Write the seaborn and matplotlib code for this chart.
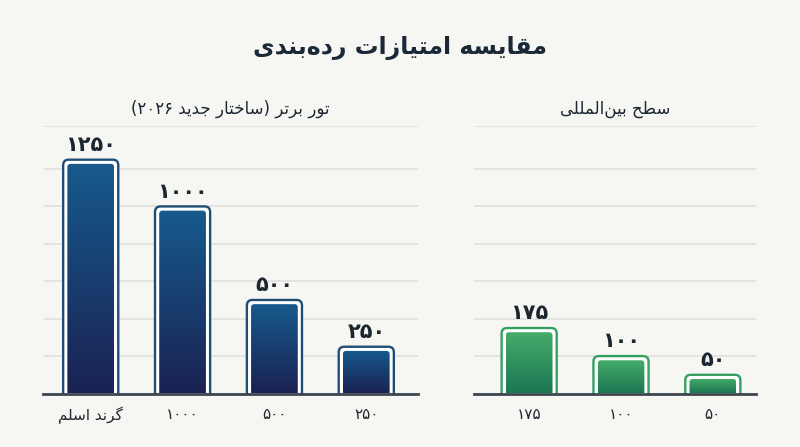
import re
import numpy as np
import pandas as pd
import matplotlib
matplotlib.use("Agg")
import matplotlib.pyplot as plt
import seaborn as sns
from matplotlib.patches import FancyBboxPatch
from matplotlib.colors import LinearSegmentedColormap

# ---------------- data ----------------
TITLE = "مقایسه امتیازات رده‌بندی"
LEFT_TITLE = "تور برتر (ساختار جدید ۲۰۲۶)"
RIGHT_TITLE = "سطح بین‌المللی"
left_categories = ["گرند اسلم", "۱۰۰۰", "۵۰۰", "۲۵۰"]
left_points = [1250, 1000, 500, 250]
right_categories = ["۱۷۵", "۱۰۰", "۵۰"]
right_points = [175, 100, 50]
left_grid = [0, 200, 400, 600, 800, 1000, 1200]
right_grid = [0, 100, 200, 300, 400, 500, 600]

# ---------------- minimal Persian shaping + bidi ----------------
FOUR = {'ب': 0xFE8F, 'ت': 0xFE95, 'ث': 0xFE99, 'ج': 0xFE9D, 'ح': 0xFEA1, 'خ': 0xFEA5,
        'س': 0xFEB1, 'ش': 0xFEB5, 'ص': 0xFEB9, 'ض': 0xFEBD, 'ط': 0xFEC1, 'ظ': 0xFEC5,
        'ع': 0xFEC9, 'غ': 0xFECD, 'ف': 0xFED1, 'ق': 0xFED5, 'ل': 0xFEDD, 'م': 0xFEE1,
        'ن': 0xFEE5, 'ه': 0xFEE9, 'پ': 0xFB56, 'چ': 0xFB7A, 'ک': 0xFB8E, 'گ': 0xFB92,
        'ی': 0xFBFC}
TWO = {'ا': 0xFE8D, 'آ': 0xFE81, 'د': 0xFEA9, 'ذ': 0xFEAB, 'ر': 0xFEAD, 'ز': 0xFEAF,
       'ژ': 0xFB8A, 'و': 0xFEED}


def _is_letter(c):
    return c in FOUR or c in TWO


def shape(text):
    # lam-alef ligature
    text = text.replace('لا', '\uFEFB')
    out = []
    n = len(text)
    for i, c in enumerate(text):
        if c == '\u200c':
            continue
        if c == '\uFEFB':
            prev = text[i - 1] if i > 0 else ''
            out.append('\uFEFC' if prev in FOUR else '\uFEFB')
            continue
        if not _is_letter(c):
            out.append(c)
            continue
        prev = text[i - 1] if i > 0 else ''
        nxt = text[i + 1] if i + 1 < n else ''
        jp = prev in FOUR
        jn = c in FOUR and (_is_letter(nxt) or nxt == '\uFEFB')
        if c in FOUR:
            base = FOUR[c]
            if jp and jn:
                cp = base + 3
            elif jp:
                cp = base + 1
            elif jn:
                cp = base + 2
            else:
                cp = base
        else:
            base = TWO[c]
            cp = base + 1 if jp else base
        out.append(chr(cp))
    logical = ''.join(out)
    # visual reordering (RTL paragraph, digit runs stay LTR)
    tokens = re.split(r'([0-9\u06F0-\u06F9]+)', logical)
    mirror = {'(': ')', ')': '('}
    vis = []
    for t in reversed(tokens):
        if re.fullmatch(r'[0-9\u06F0-\u06F9]+', t or 'x'):
            vis.append(t)
        else:
            vis.append(''.join(mirror.get(ch, ch) for ch in reversed(t)))
    return ''.join(vis)


def to_fa(v):
    return str(v).translate(str.maketrans('0123456789', '۰۱۲۳۴۵۶۷۸۹'))


# ---------------- style ----------------
BG = '#f6f7f3'
sns.set_theme(style='white')
plt.rcParams['font.family'] = ['DejaVu Sans']
plt.rcParams['figure.facecolor'] = BG
plt.rcParams['axes.facecolor'] = BG

fig = plt.figure(figsize=(8, 4.47), dpi=100)
axL = fig.add_axes([43.5 / 800, 1 - 393.5 / 447, 374.5 / 800, 267.5 / 447])
axR = fig.add_axes([473.5 / 800, 1 - 393.5 / 447, 282.5 / 800, 267.5 / 447])

dfL = pd.DataFrame({'cat': [shape(c) for c in left_categories], 'pts': left_points})
dfR = pd.DataFrame({'cat': [shape(c) for c in right_categories], 'pts': right_points})

sns.barplot(data=dfL, x='cat', y='pts', ax=axL, width=0.6, color='#1d4a74')
sns.barplot(data=dfR, x='cat', y='pts', ax=axR, width=0.6, color='#2f9457')

limits = {axL: ((-0.514, 3.563), 1430), axR: ((-0.606, 2.47), 715)}


def set_limits(ax):
    (x0, x1), ymax = limits[ax]
    ax.set_xlim(x0, x1)
    ax.set_ylim(0, ymax)


def decorate(ax, grid, outline, top_c, bot_c, title):
    set_limits(ax)
    t0 = ax.transData.transform((0, 0))
    sx = ax.transData.transform((1, 0))[0] - t0[0]
    sy = ax.transData.transform((0, 1))[1] - t0[1]
    aspect = sx / sy
    cmap = LinearSegmentedColormap.from_list('g', [bot_c, top_c])
    grad = np.linspace(0, 1, 256).reshape(-1, 1)
    bars = list(ax.patches)
    for p in bars:
        x0, w, h = p.get_x(), p.get_width(), p.get_height()
        p.set_visible(False)
        r_out = 5.5 / sx
        outer = FancyBboxPatch((x0, -r_out * aspect), w, h + r_out * aspect,
                               boxstyle=f"round,pad=0,rounding_size={r_out}",
                               mutation_aspect=aspect, fc='white', ec=outline,
                               lw=1.7, zorder=3)
        ax.add_patch(outer)
        dx, dy = 4.2 / sx, 4.2 / sy
        r_in = 3.0 / sx
        inner = FancyBboxPatch((x0 + dx, -r_in * aspect), w - 2 * dx, h - dy + r_in * aspect,
                               boxstyle=f"round,pad=0,rounding_size={r_in}",
                               mutation_aspect=aspect, fc='none', ec='none', lw=0, zorder=2)
        ax.add_patch(inner)
        im = ax.imshow(grad, extent=(x0 + dx, x0 + w - dx, 0, h - dy), aspect='auto',
                       cmap=cmap, origin='lower', zorder=4, interpolation='bilinear')
        im.set_clip_path(inner)
        ax.annotate(to_fa(int(h)), (x0 + w / 2, h), xytext=(0, 3.5), textcoords='offset points',
                    ha='center', va='bottom', fontsize=15, fontweight='bold', color='#1c2630',
                    zorder=5)
    set_limits(ax)
    ymax = limits[ax][1]
    ax.set_yticks(list(grid) + [ymax])
    ax.yaxis.grid(True, color='#e1e2de', lw=1.3)
    ax.set_axisbelow(True)
    ax.tick_params(axis='y', left=False, labelleft=False)
    ax.tick_params(axis='x', bottom=False, pad=4, labelsize=11, labelcolor='#1f262e')
    for s in ['top', 'right', 'left']:
        ax.spines[s].set_visible(False)
    ax.spines['bottom'].set_color('#3c4550')
    ax.spines['bottom'].set_linewidth(2)
    ax.spines['bottom'].set_zorder(6)
    ax.set_xlabel('')
    ax.set_ylabel('')
    ax.set_title(shape(title), fontsize=12, color='#1b2632', pad=9)


decorate(axL, left_grid, '#1f4d76', '#175a8c', '#1a2253', LEFT_TITLE)
decorate(axR, right_grid, '#33a060', '#45ad6a', '#1c7652', RIGHT_TITLE)

fig.text(0.5, 1 - 48 / 447, shape(TITLE), ha='center', va='center', fontsize=17,
         fontweight='bold', color='#1a2838')

fig.savefig('out.png', dpi=100, facecolor=BG)
